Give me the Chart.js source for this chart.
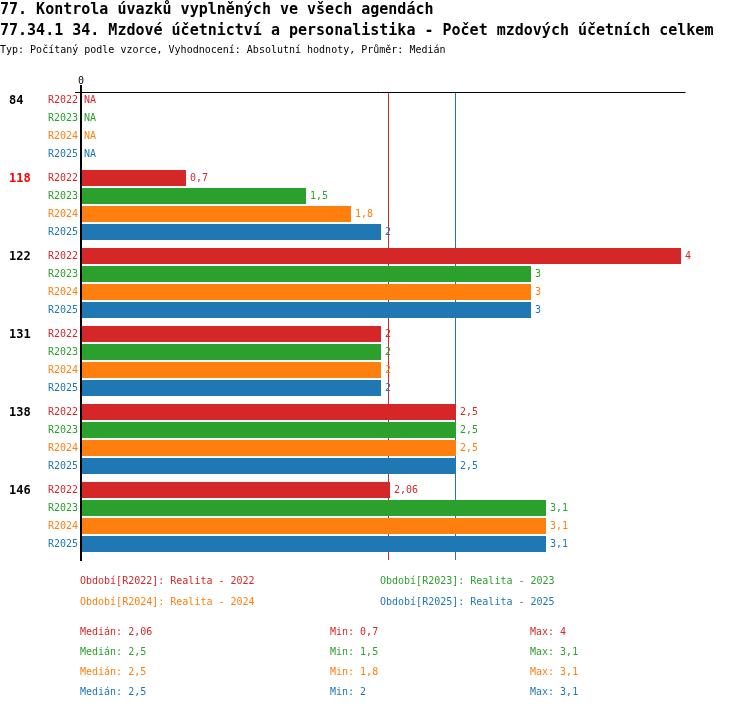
<!DOCTYPE html>
<html>
<head>
<meta charset="utf-8">
<script src="https://cdn.jsdelivr.net/npm/chart.js@4/dist/chart.umd.min.js"></script>
<style>
  html, body { margin: 0; padding: 0; background: #fff; }
  #wrap { position: relative; width: 750px; height: 710px; overflow: hidden; font-family: "DejaVu Sans Mono", monospace; }
  canvas { position: absolute; left: 0; top: 0; }
  .t { position: absolute; white-space: pre; }
  .h1 { font-size: 15px; font-weight: bold; line-height: 18px; left: 0; color: #000; }
  .sub { font-size: 10px; line-height: 14px; left: 0; color: #000; }
  .s { font-size: 10px; line-height: 14px; }
</style>
</head>
<body>
<div id="wrap">
  <canvas id="c" width="750" height="710"></canvas>
  <div class="t h1" style="top:0px">77. Kontrola úvazků vyplněných ve všech agendách</div>
  <div class="t h1" style="top:21px">77.34.1 34. Mzdové účetnictví a personalistika - Počet mzdových účetních celkem</div>
  <div class="t sub" style="top:43px">Typ: Počítaný podle vzorce, Vyhodnocení: Absolutní hodnoty, Průměr: Medián</div>
  <div id="legend"></div>
</div>
<script>
// ---- data ----
const groups = ['84', '118', '122', '131', '138', '146'];
const highlightGroup = '118';
const periods = ['R2022', 'R2023', 'R2024', 'R2025'];
const periodNames = ['Realita - 2022', 'Realita - 2023', 'Realita - 2024', 'Realita - 2025'];
const values2022 = [null, 0.7, 4, 2, 2.5, 2.06];
const values2023 = [null, 1.5, 3, 2, 2.5, 3.1];
const values2024 = [null, 1.8, 3, 2, 2.5, 3.1];
const values2025 = [null, 2, 3, 2, 2.5, 3.1];
const medians = [2.06, 2.5, 2.5, 2.5];
const mins = [0.7, 1.5, 1.8, 2];
const maxs = [4, 3.1, 3.1, 3.1];
const xTicks = [0];
const colors = ['#d62728', '#2ca02c', '#ff7f0e', '#1f77b4'];

const seriesValues = [values2022, values2023, values2024, values2025];
const fmt = v => String(v).replace('.', ',');

// ---- legend / stats as HTML text ----
const leg = document.getElementById('legend');
function addText(txt, x, y, color) {
  const d = document.createElement('div');
  d.className = 't s';
  d.style.left = x + 'px';
  d.style.top = y + 'px';
  d.style.color = color;
  d.textContent = txt;
  leg.appendChild(d);
}
const legX = [80, 380, 80, 380];
const legY = [574, 574, 595, 595];
periods.forEach((p, i) => addText('Období[' + p + ']: ' + periodNames[i], legX[i], legY[i], colors[i]));
periods.forEach((p, i) => {
  const y = 625 + i * 20;
  addText('Medián: ' + fmt(medians[i]), 80, y, colors[i]);
  addText('Min: ' + fmt(mins[i]), 330, y, colors[i]);
  addText('Max: ' + fmt(maxs[i]), 530, y, colors[i]);
});

// ---- chart ----
const CAT_PCT = 72 / 78;
const BAR_PCT = 16 / 18;
const FONT = '"DejaVu Sans Mono", monospace';

function rowCenter(chart, gi, k) {
  const ys = chart.scales.y;
  const catH = ys.height / groups.length;
  const slot = catH * CAT_PCT / periods.length;
  return ys.getPixelForValue(gi) + (k - (periods.length - 1) / 2) * slot;
}

const overlay = {
  id: 'overlay',
  beforeDatasetsDraw(chart) {
    const ctx = chart.ctx, xs = chart.scales.x;
    ctx.save();
    ctx.lineWidth = 1;
    for (let k = medians.length - 1; k >= 0; k--) {
      // draw green/orange first, then blue, red last order by overlap
    }
    const order = [1, 2, 3, 0];
    order.forEach(k => {
      const x = Math.round(xs.getPixelForValue(medians[k]) - 1.5) + 0.5;
      ctx.strokeStyle = colors[k];
      ctx.beginPath();
      ctx.moveTo(x, chart.chartArea.top + 4);
      ctx.lineTo(x, chart.chartArea.bottom + 4);
      ctx.stroke();
    });
    ctx.restore();
  },
  afterDatasetsDraw(chart) {
    const ctx = chart.ctx, xs = chart.scales.x, area = chart.chartArea;
    const x0 = xs.getPixelForValue(0);
    ctx.save();
    // top axis line
    ctx.strokeStyle = '#000';
    ctx.lineWidth = 1;
    ctx.beginPath();
    ctx.moveTo(x0 - 6, area.top + 4.5);
    ctx.lineTo(area.right, area.top + 4.5);
    ctx.stroke();
    // vertical zero axis
    ctx.lineWidth = 2;
    ctx.beginPath();
    ctx.moveTo(x0, area.top - 3);
    ctx.lineTo(x0, area.bottom + 5);
    ctx.stroke();
    // tick labels
    ctx.fillStyle = '#000';
    ctx.font = '10px ' + FONT;
    ctx.textAlign = 'center';
    ctx.textBaseline = 'middle';
    xTicks.forEach(t => ctx.fillText(String(t), xs.getPixelForValue(t), area.top - 7));
    // labels
    groups.forEach((g, gi) => {
      ctx.font = 'bold 12px ' + FONT;
      ctx.textAlign = 'left';
      ctx.fillStyle = g === highlightGroup ? '#ff0000' : '#000';
      ctx.fillText(g, 9, rowCenter(chart, gi, 0) + 0.5);
      periods.forEach((p, k) => {
        const y = rowCenter(chart, gi, k) + 0.5;
        ctx.font = '10px ' + FONT;
        ctx.fillStyle = colors[k];
        ctx.textAlign = 'right';
        ctx.fillText(p, x0 - 3, y);
        ctx.textAlign = 'left';
        const v = seriesValues[k][gi];
        if (v === null || v === undefined) {
          ctx.fillText('NA', x0 + 3, y);
        } else {
          ctx.fillText(fmt(v), xs.getPixelForValue(v) + 4, y);
        }
      });
    });
    ctx.restore();
  }
};

new Chart(document.getElementById('c'), {
  type: 'bar',
  data: {
    labels: groups,
    datasets: periods.map((p, k) => ({
      label: p,
      data: seriesValues[k],
      backgroundColor: colors[k],
      borderWidth: 0,
      categoryPercentage: CAT_PCT,
      barPercentage: BAR_PCT
    }))
  },
  options: {
    indexAxis: 'y',
    responsive: false,
    animation: false,
    devicePixelRatio: 1,
    layout: { padding: { left: 81, right: 64.5, top: 88, bottom: 154 } },
    plugins: { legend: { display: false }, tooltip: { enabled: false }, title: { display: false } },
    scales: {
      x: { display: false, min: 0, max: 4.03 },
      y: { display: false }
    }
  },
  plugins: [overlay]
});
</script>
</body>
</html>
